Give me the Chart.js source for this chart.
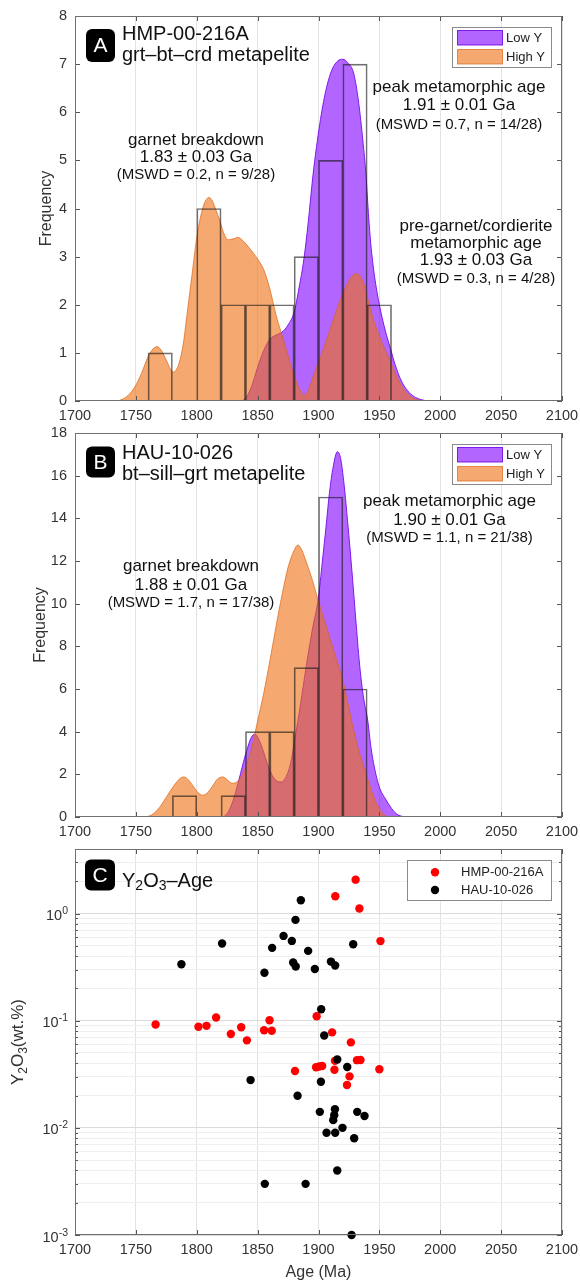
<!DOCTYPE html>
<html><head><meta charset="utf-8"><title>Monazite ages</title>
<script src="https://cdn.jsdelivr.net/npm/chart.js@4.4.1/dist/chart.umd.min.js"></script>
<style>
html,body{margin:0;padding:0;background:#fff;}
#wrap{position:relative;width:580px;height:1282px;overflow:hidden;background:#fff;}
canvas{position:absolute;left:0;}
</style></head><body>
<div id="wrap">
<canvas id="cA" width="580" height="425" style="top:0px"></canvas>
<canvas id="cB" width="580" height="415" style="top:425px"></canvas>
<canvas id="cC" width="580" height="442" style="top:840px"></canvas>
</div>
<script>
// ---------------- DATA ----------------
const xTickValues = [1700,1750,1800,1850,1900,1950,2000,2050,2100];
const yTicksA = [0,1,2,3,4,5,6,7,8];
const yTicksB = [0,2,4,6,8,10,12,14,16,18];
const logDecadeExps = [-3,-2,-1,0];
const seriesNames = ['Low Y','High Y'];
const sampleNames = ['HMP-00-216A','HAU-10-026'];

// Panel A histogram (20 Ma bins, centres)
const binCentersA = [1770,1790,1810,1830,1850,1870,1890,1910,1930,1950];
const countsA     = [1,0,4,2,2,2,3,5,7,2];
// Panel A density curves
const ageLowA = [1835,1840,1845,1850,1855,1860,1865,1870,1875,1880,1884,1888,1891.5,1895.5,1901,1906,1911,1916,1920,1924,1929,1933,1936.5,1939,1941,1943,1946,1950,1955,1959,1963,1968,1973,1978,1984,1990];
const denLowA = [0,0.05,0.3,0.7,1.05,1.28,1.37,1.43,1.58,1.85,2.35,2.95,3.7,4.7,5.75,6.45,6.88,7.07,7.1,7.03,6.8,6.2,5.4,4.7,3.9,3.25,2.6,2.0,1.45,1.1,0.75,0.42,0.22,0.1,0.03,0];
const ageHighA = [1735,1740,1745,1750,1755,1760,1764,1767.5,1771,1775,1780.5,1785,1789,1792,1796,1800,1804,1807,1810,1813,1816,1819,1822,1826,1830,1834,1838,1843.5,1850,1855,1860,1865,1869.5,1874,1879,1884.5,1888,1891.5,1895.5,1900,1904,1912,1920,1927,1931,1934,1937,1941,1945,1950,1954,1958.5,1963,1967,1972,1977,1982,1986];
const denHighA = [0,0.05,0.15,0.33,0.6,0.92,1.08,1.13,1.05,0.85,0.6,0.75,1.2,1.8,2.6,3.4,3.92,4.15,4.23,4.15,3.95,3.75,3.5,3.35,3.37,3.4,3.33,3.17,2.95,2.73,2.33,1.8,1.41,1.03,0.6,0.25,0.12,0.22,0.5,0.8,1.08,1.68,2.23,2.57,2.65,2.6,2.45,2.08,1.7,1.35,1.1,0.85,0.58,0.37,0.18,0.07,0.02,0];

// Panel B histogram
const binCentersB = [1790,1810,1830,1850,1870,1890,1910,1930];
const countsB     = [1,0,1,4,4,7,15,6];
// Panel B density curves
const ageLowB = [1822,1826,1830,1834,1838,1842,1845,1847.5,1850,1854,1858,1862,1866,1869.5,1873,1877,1881,1885,1890,1895,1900,1903,1906,1909,1912,1915.5,1918,1921,1924,1927.5,1931,1934,1937,1940.5,1943,1946,1950,1955,1960,1964,1968,1972];
const denLowB = [0,0.25,0.8,1.6,2.5,3.3,3.75,3.88,3.75,3.2,2.5,1.95,1.68,1.64,1.85,2.5,3.8,5.2,7.1,8.8,10.3,11.9,13.5,15.2,16.4,17.12,16.85,15.6,13.8,11.5,9.0,7.0,5.6,4.5,3.3,2.3,1.4,0.85,0.4,0.15,0.04,0];
const ageHighB = [1758,1763,1768,1773,1778,1783,1786.5,1789.5,1793,1797,1801,1805,1809,1813,1817,1821.5,1825,1829,1833,1837,1841,1845,1850,1855,1860,1865,1870,1875,1880,1883,1886,1890,1895,1900,1905,1910,1915,1920,1925,1930,1935,1940,1945,1950,1954,1958];
const denHighB = [0,0.1,0.35,0.75,1.2,1.6,1.82,1.88,1.75,1.45,1.15,1.02,1.15,1.45,1.78,1.88,1.75,1.58,1.65,1.95,2.45,3.2,4.5,5.8,7.3,8.9,10.4,11.7,12.5,12.75,12.55,11.95,11.1,10.1,9.2,8.25,7.35,6.4,5.1,3.8,2.75,1.85,1.0,0.4,0.1,0];

// Panel C scatter (Age Ma, Y2O3 wt.%)
const redAge = [1766.2,1801.4,1808.0,1815.9,1828.0,1836.5,1841.2,1855.3,1859.8,1861.6,1880.7,1898.5,1898.0,1900.5,1903.0,1911.2,1913.1,1913.8,1926.6,1925.5,1923.4,1930.5,1933.6,1931.6,1934.5,1950.9,1950.0,1913.5];
const redY   = [0.092,0.0877,0.0895,0.107,0.0752,0.0868,0.0655,0.0815,0.1008,0.0805,0.0339,0.110,0.0368,0.0373,0.0378,0.0778,0.0348,1.45,0.0627,0.0302,0.0251,2.07,1.115,0.0428,0.0429,0.553,0.0352,0.0422];
const blackAge = [1787.4,1820.8,1855.6,1861.9,1871.3,1878.1,1881.1,1885.5,1891.5,1879.2,1881.3,1897.0,1910.2,1913.7,1928.5,1902.2,1904.7,1915.4,1923.6,1844.2,1902.0,1882.8,1901.1,1913.5,1912.9,1912.1,1931.8,1937.8,1919.7,1906.6,1913.7,1929.3,1915.4,1855.9,1889.4,1927.2];
const blackY   = [0.336,0.525,0.28,0.478,0.618,0.555,0.872,1.33,0.448,0.349,0.32,0.304,0.356,0.327,0.517,0.128,0.0727,0.0435,0.037,0.0279,0.0269,0.0199,0.0141,0.0149,0.0131,0.0118,0.0141,0.0129,0.010,0.009,0.009,0.008,0.004,0.003,0.003,0.001];

// ---------------- STYLE ----------------
const FONT = "'Liberation Sans', Arial, Helvetica, sans-serif";
const PURPLE_FILL = 'rgba(128,0,255,0.6)';
const PURPLE_EDGE = 'rgba(110,0,230,0.85)';
const ORANGE_FILL = 'rgba(238,110,17,0.6)';
const ORANGE_EDGE = 'rgba(220,100,20,0.7)';
const TICK_COLOR = '#333';
Chart.defaults.font.family = FONT;
Chart.defaults.color = TICK_COLOR;

const pts = (xs, ys) => xs.map((x, i) => ({x: x, y: ys[i]}));

function rich(ctx, parts, x, y, align) {
  let w = 0;
  parts.forEach(p => { ctx.font = p[1] + 'px ' + FONT; w += ctx.measureText(p[0]).width; });
  let cx = align === 'center' ? x - w / 2 : (align === 'right' ? x - w : x);
  ctx.textAlign = 'left';
  parts.forEach(p => { ctx.font = p[1] + 'px ' + FONT; ctx.fillText(p[0], cx, y + (p[2] || 0)); cx += ctx.measureText(p[0]).width; });
}
function letterBox(ctx, x, y, w, h, letter) {
  ctx.fillStyle = '#000';
  ctx.beginPath();
  if (ctx.roundRect) ctx.roundRect(x, y, w, h, 6); else ctx.rect(x, y, w, h);
  ctx.fill();
  ctx.fillStyle = '#fff';
  ctx.font = '21px ' + FONT;
  ctx.textAlign = 'center';
  ctx.textBaseline = 'middle';
  ctx.fillText(letter, x + w / 2, y + h / 2 + 1);
}
function textBlock(ctx, cx, lines) {
  ctx.fillStyle = '#111';
  ctx.textAlign = 'center';
  ctx.textBaseline = 'middle';
  lines.forEach(l => { ctx.font = l[1] + 'px ' + FONT; ctx.fillText(l[0], cx, l[2]); });
}
function legendHist(ctx, top) {
  ctx.fillStyle = '#fff';
  ctx.fillRect(452.5, top + 11.5, 99, 40);
  ctx.strokeStyle = '#8a8a8a'; ctx.lineWidth = 1;
  ctx.strokeRect(452.5, top + 11.5, 99, 40);
  const sw = [[PURPLE_FILL, PURPLE_EDGE, top + 14.5], [ORANGE_FILL, ORANGE_EDGE, top + 33.5]];
  sw.forEach((s, i) => {
    ctx.fillStyle = s[0]; ctx.fillRect(457.5, s[2], 45, 14.5);
    ctx.strokeStyle = s[1]; ctx.strokeRect(457.5, s[2], 45, 14.5);
    ctx.fillStyle = '#222'; ctx.font = '13px ' + FONT; ctx.textAlign = 'left'; ctx.textBaseline = 'middle';
    ctx.fillText(seriesNames[i], 506, s[2] + 7.5);
  });
}
function decor(cfg) {
  return {
    id: 'decor',
    afterDraw(chart) {
      const ctx = chart.ctx, a = chart.chartArea, sx = chart.scales.x, sy = chart.scales.y;
      ctx.save();
      ctx.strokeStyle = '#555'; ctx.lineWidth = 1;
      ctx.beginPath();
      sx.ticks.forEach(t => {
        const p = Math.round(sx.getPixelForValue(t.value)) + 0.5;
        ctx.moveTo(p, a.bottom); ctx.lineTo(p, a.bottom - 5);
        ctx.moveTo(p, a.top); ctx.lineTo(p, a.top + 5);
      });
      sy.ticks.forEach(t => {
        const len = cfg.tickLen ? cfg.tickLen(t.value) : 5;
        const p = Math.round(sy.getPixelForValue(t.value)) + 0.5;
        ctx.moveTo(a.left, p); ctx.lineTo(a.left + len, p);
        ctx.moveTo(a.right, p); ctx.lineTo(a.right - len, p);
      });
      ctx.stroke();
      ctx.strokeStyle = '#707070';
      ctx.strokeRect(a.left + 0.5, a.top + 0.5, a.right - a.left - 1, a.bottom - a.top - 1);
      cfg.draw(ctx, chart);
      ctx.restore();
    }
  };
}
function xScale(H, bottom, title) {
  return {
    type: 'linear', min: 1700, max: 2100, offset: false,
    afterBuildTicks: s => { s.ticks = xTickValues.map(v => ({value: v})); },
    afterFit: s => { s.height = H - bottom; s.paddingLeft = 0; s.paddingRight = 0; },
    grid: { color: '#e3e3e3', lineWidth: 1, drawTicks: false, offset: false },
    border: { display: false },
    ticks: { padding: 6, font: { size: 14.5 }, color: TICK_COLOR, callback: v => String(v), maxRotation: 0, autoSkip: false },
    title: title ? { display: true, text: title, font: { size: 16 }, color: TICK_COLOR, padding: { top: 0, bottom: 0 } } : { display: false }
  };
}
function yFit(s) { s.width = 75; s.paddingTop = 0; s.paddingBottom = 0; }
function histChart(id, H, top, bottom, centers, counts, ageLow, denLow, ageHigh, denHigh, yTicks, titlePad, drawExtra) {
  return new Chart(document.getElementById(id), {
    type: 'line',
    data: { datasets: [
      { type: 'bar', label: 'histogram', data: pts(centers, counts), order: 0,
        backgroundColor: 'rgba(0,0,0,0)', borderColor: 'rgba(25,25,25,0.62)', borderWidth: 1,
        barPercentage: 1, categoryPercentage: 1 },
      { type: 'line', label: seriesNames[1], data: pts(ageHigh, denHigh), order: 1, fill: 'origin',
        backgroundColor: ORANGE_FILL, borderColor: ORANGE_EDGE, borderWidth: 1, pointRadius: 0,
        cubicInterpolationMode: 'monotone' },
      { type: 'line', label: seriesNames[0], data: pts(ageLow, denLow), order: 2, fill: 'origin',
        backgroundColor: PURPLE_FILL, borderColor: PURPLE_EDGE, borderWidth: 1, pointRadius: 0,
        cubicInterpolationMode: 'monotone' }
    ]},
    options: {
      responsive: false, animation: false, events: [],
      layout: { padding: { top: top, right: 18, left: 0, bottom: 0 } },
      plugins: { legend: { display: false }, tooltip: { enabled: false } },
      scales: {
        x: xScale(H, bottom, null),
        y: { type: 'linear', min: yTicks[0], max: yTicks[yTicks.length - 1],
          afterBuildTicks: s => { s.ticks = yTicks.map(v => ({value: v})); },
          afterFit: yFit,
          grid: { display: false, drawTicks: false }, border: { display: false },
          ticks: { padding: 8, font: { size: 14.5, lineHeight: 1 }, color: TICK_COLOR, callback: v => String(v) },
          title: { display: true, text: 'Frequency', font: { size: 16 }, color: TICK_COLOR, padding: { top: titlePad, bottom: 0 } } }
      }
    },
    plugins: [decor({ draw: drawExtra })]
  });
}

// ---------------- PANEL A ----------------
histChart('cA', 425, 16, 401, binCentersA, countsA, ageLowA, denLowA, ageHighA, denHighA, yTicksA, 37, (ctx, chart) => {
  letterBox(ctx, 86, 29, 29, 33, 'A');
  ctx.fillStyle = '#111'; ctx.textBaseline = 'alphabetic';
  rich(ctx, [[sampleNames[0], 20]], 122, 39.5, 'left');
  rich(ctx, [['grt–bt–crd metapelite', 20]], 122, 61, 'left');
  legendHist(ctx, chart.chartArea.top);
  textBlock(ctx, 459, [['peak metamorphic age', 17, 87], ['1.91 ± 0.01 Ga', 17, 105], ['(MSWD = 0.7, n = 14/28)', 15, 124.5]]);
  textBlock(ctx, 196, [['garnet breakdown', 17, 140], ['1.83 ± 0.03 Ga', 17, 157.5], ['(MSWD = 0.2, n = 9/28)', 15, 175]]);
  textBlock(ctx, 476, [['pre-garnet/cordierite', 17, 226], ['metamorphic age', 17, 243], ['1.93 ± 0.03 Ga', 17, 260.5], ['(MSWD = 0.3, n = 4/28)', 15, 279]]);
});

// ---------------- PANEL B ----------------
histChart('cB', 415, 8, 392, binCentersB, countsB, ageLowB, denLowB, ageHighB, denHighB, yTicksB, 31, (ctx, chart) => {
  letterBox(ctx, 86, 21.5, 29, 31, 'B');
  ctx.fillStyle = '#111'; ctx.textBaseline = 'alphabetic';
  rich(ctx, [[sampleNames[1], 20]], 122, 34, 'left');
  rich(ctx, [['bt–sill–grt metapelite', 20]], 122, 54.5, 'left');
  legendHist(ctx, chart.chartArea.top);
  textBlock(ctx, 449.5, [['peak metamorphic age', 17, 76.7], ['1.90 ± 0.01 Ga', 17, 95], ['(MSWD = 1.1, n = 21/38)', 15, 113]]);
  textBlock(ctx, 191, [['garnet breakdown', 17, 141.7], ['1.88 ± 0.01 Ga', 17, 160], ['(MSWD = 1.7, n = 17/38)', 15, 177.7]]);
});

// ---------------- PANEL C ----------------
const isDecade = v => Math.abs(Math.log10(v) - Math.round(Math.log10(v))) < 1e-6;
new Chart(document.getElementById('cC'), {
  type: 'scatter',
  data: { datasets: [
    { label: sampleNames[1], data: pts(blackAge, blackY), order: 0, backgroundColor: '#000', borderWidth: 0, pointRadius: 4.2, clip: false },
    { label: sampleNames[0], data: pts(redAge, redY), order: 1, backgroundColor: '#f00', borderWidth: 0, pointRadius: 4.2, clip: false }
  ]},
  options: {
    responsive: false, animation: false, events: [],
    layout: { padding: { top: 9, right: 18, left: 0, bottom: 0 } },
    plugins: { legend: { display: false }, tooltip: { enabled: false } },
    scales: {
      x: xScale(442, 395, 'Age (Ma)'),
      y: { type: 'logarithmic', min: 0.001, max: 4,
        afterBuildTicks: s => {
          const out = [];
          logDecadeExps.forEach(e => { for (let m = 1; m <= 9; m++) { const v = +(m * Math.pow(10, e)).toPrecision(6); if (v <= 4 + 1e-9) out.push({value: v}); } });
          s.ticks = out;
        },
        afterFit: yFit,
        grid: { color: c => (c.tick && isDecade(c.tick.value)) ? '#dadada' : '#efefef', lineWidth: 1, drawTicks: false },
        border: { display: false },
        ticks: { display: false },
        title: { display: false } }
    }
  },
  plugins: [decor({
    tickLen: v => isDecade(v) ? 5 : 3,
    draw: (ctx, chart) => {
      const sy = chart.scales.y;
      // decade tick labels 10^n
      ctx.fillStyle = TICK_COLOR; ctx.textBaseline = 'alphabetic';
      logDecadeExps.forEach(e => {
        const p = sy.getPixelForValue(Math.pow(10, e));
        const sup = e === 0 ? '0' : '-' + Math.abs(e);
        ctx.font = '10.5px ' + FONT; const sw = ctx.measureText(sup).width;
        ctx.textAlign = 'left'; ctx.fillText(sup, 68 - sw, p + 0.5);
        ctx.font = '14.5px ' + FONT; ctx.textAlign = 'right'; ctx.fillText('10', 68 - sw, p + 6.5);
      });
      // y title with subscripts
      ctx.save();
      ctx.translate(23, (chart.chartArea.top + chart.chartArea.bottom) / 2);
      ctx.rotate(-Math.PI / 2);
      ctx.fillStyle = TICK_COLOR;
      rich(ctx, [['Y', 17], ['2', 12, 4], ['O', 17], ['3', 12, 4], ['(wt.%)', 17]], 0, 0, 'center');
      ctx.restore();
      letterBox(ctx, 85, 19.5, 30, 31, 'C');
      ctx.fillStyle = '#111';
      rich(ctx, [['Y', 20], ['2', 14, 5], ['O', 20], ['3', 14, 5], ['–Age', 20]], 122, 41.5, 'left');
      // legend
      ctx.fillStyle = '#fff'; ctx.fillRect(407.5, 20.5, 144, 40);
      ctx.strokeStyle = '#8a8a8a'; ctx.lineWidth = 1; ctx.strokeRect(407.5, 20.5, 144, 40);
      [['#f00', 32.3], ['#000', 50]].forEach((d, i) => {
        ctx.fillStyle = d[0]; ctx.beginPath(); ctx.arc(435, d[1], 4.2, 0, Math.PI * 2); ctx.fill();
        ctx.fillStyle = '#222'; ctx.font = '13px ' + FONT; ctx.textAlign = 'left'; ctx.textBaseline = 'middle';
        ctx.fillText(sampleNames[i], 461, d[1]);
      });
    }
  })]
});
</script></body></html>
